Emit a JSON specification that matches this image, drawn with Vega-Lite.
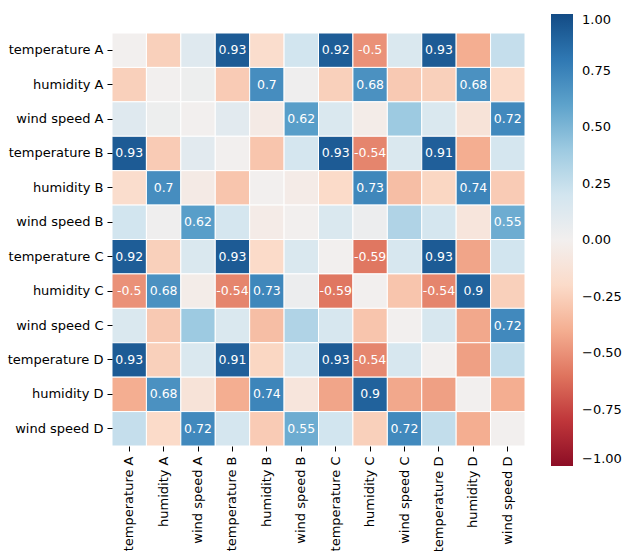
{
 "$schema": "https://vega.github.io/schema/vega-lite/v6.json",
 "width": 413, "height": 413,
 "autosize": {"type": "none"},
 "padding": {"left": 112, "top": 33, "right": 97, "bottom": 105},
 "config": {"font": "DejaVu Sans", "view": {"stroke": null}},
 "datasets": {"m": [
{"r":"temperature A","c":"temperature A","v":0},{"r":"temperature A","c":"humidity A","v":-0.25},{"r":"temperature A","c":"wind speed A","v":0.12},{"r":"temperature A","c":"temperature B","v":0.93},{"r":"temperature A","c":"humidity B","v":-0.18},{"r":"temperature A","c":"wind speed B","v":0.2},{"r":"temperature A","c":"temperature C","v":0.92},{"r":"temperature A","c":"humidity C","v":-0.5},{"r":"temperature A","c":"wind speed C","v":0.15},{"r":"temperature A","c":"temperature D","v":0.93},{"r":"temperature A","c":"humidity D","v":-0.4},{"r":"temperature A","c":"wind speed D","v":0.25},
{"r":"humidity A","c":"temperature A","v":-0.25},{"r":"humidity A","c":"humidity A","v":0},{"r":"humidity A","c":"wind speed A","v":0.03},{"r":"humidity A","c":"temperature B","v":-0.27},{"r":"humidity A","c":"humidity B","v":0.7},{"r":"humidity A","c":"wind speed B","v":0.02},{"r":"humidity A","c":"temperature C","v":-0.25},{"r":"humidity A","c":"humidity C","v":0.68},{"r":"humidity A","c":"wind speed C","v":-0.28},{"r":"humidity A","c":"temperature D","v":-0.25},{"r":"humidity A","c":"humidity D","v":0.68},{"r":"humidity A","c":"wind speed D","v":-0.2},
{"r":"wind speed A","c":"temperature A","v":0.12},{"r":"wind speed A","c":"humidity A","v":0.03},{"r":"wind speed A","c":"wind speed A","v":0},{"r":"wind speed A","c":"temperature B","v":0.1},{"r":"wind speed A","c":"humidity B","v":-0.05},{"r":"wind speed A","c":"wind speed B","v":0.62},{"r":"wind speed A","c":"temperature C","v":0.15},{"r":"wind speed A","c":"humidity C","v":-0.03},{"r":"wind speed A","c":"wind speed C","v":0.4},{"r":"wind speed A","c":"temperature D","v":0.15},{"r":"wind speed A","c":"humidity D","v":-0.12},{"r":"wind speed A","c":"wind speed D","v":0.72},
{"r":"temperature B","c":"temperature A","v":0.93},{"r":"temperature B","c":"humidity A","v":-0.27},{"r":"temperature B","c":"wind speed A","v":0.1},{"r":"temperature B","c":"temperature B","v":0},{"r":"temperature B","c":"humidity B","v":-0.3},{"r":"temperature B","c":"wind speed B","v":0.18},{"r":"temperature B","c":"temperature C","v":0.93},{"r":"temperature B","c":"humidity C","v":-0.54},{"r":"temperature B","c":"wind speed C","v":0.15},{"r":"temperature B","c":"temperature D","v":0.91},{"r":"temperature B","c":"humidity D","v":-0.4},{"r":"temperature B","c":"wind speed D","v":0.18},
{"r":"humidity B","c":"temperature A","v":-0.18},{"r":"humidity B","c":"humidity A","v":0.7},{"r":"humidity B","c":"wind speed A","v":-0.05},{"r":"humidity B","c":"temperature B","v":-0.3},{"r":"humidity B","c":"humidity B","v":0},{"r":"humidity B","c":"wind speed B","v":-0.04},{"r":"humidity B","c":"temperature C","v":-0.2},{"r":"humidity B","c":"humidity C","v":0.73},{"r":"humidity B","c":"wind speed C","v":-0.33},{"r":"humidity B","c":"temperature D","v":-0.22},{"r":"humidity B","c":"humidity D","v":0.74},{"r":"humidity B","c":"wind speed D","v":-0.27},
{"r":"wind speed B","c":"temperature A","v":0.2},{"r":"wind speed B","c":"humidity A","v":0.02},{"r":"wind speed B","c":"wind speed A","v":0.62},{"r":"wind speed B","c":"temperature B","v":0.18},{"r":"wind speed B","c":"humidity B","v":-0.04},{"r":"wind speed B","c":"wind speed B","v":0},{"r":"wind speed B","c":"temperature C","v":0.15},{"r":"wind speed B","c":"humidity C","v":0.04},{"r":"wind speed B","c":"wind speed C","v":0.33},{"r":"wind speed B","c":"temperature D","v":0.18},{"r":"wind speed B","c":"humidity D","v":-0.1},{"r":"wind speed B","c":"wind speed D","v":0.55},
{"r":"temperature C","c":"temperature A","v":0.92},{"r":"temperature C","c":"humidity A","v":-0.25},{"r":"temperature C","c":"wind speed A","v":0.15},{"r":"temperature C","c":"temperature B","v":0.93},{"r":"temperature C","c":"humidity B","v":-0.2},{"r":"temperature C","c":"wind speed B","v":0.15},{"r":"temperature C","c":"temperature C","v":0},{"r":"temperature C","c":"humidity C","v":-0.59},{"r":"temperature C","c":"wind speed C","v":0.17},{"r":"temperature C","c":"temperature D","v":0.93},{"r":"temperature C","c":"humidity D","v":-0.43},{"r":"temperature C","c":"wind speed D","v":0.2},
{"r":"humidity C","c":"temperature A","v":-0.5},{"r":"humidity C","c":"humidity A","v":0.68},{"r":"humidity C","c":"wind speed A","v":-0.03},{"r":"humidity C","c":"temperature B","v":-0.54},{"r":"humidity C","c":"humidity B","v":0.73},{"r":"humidity C","c":"wind speed B","v":0.04},{"r":"humidity C","c":"temperature C","v":-0.59},{"r":"humidity C","c":"humidity C","v":0},{"r":"humidity C","c":"wind speed C","v":-0.3},{"r":"humidity C","c":"temperature D","v":-0.54},{"r":"humidity C","c":"humidity D","v":0.9},{"r":"humidity C","c":"wind speed D","v":-0.25},
{"r":"wind speed C","c":"temperature A","v":0.15},{"r":"wind speed C","c":"humidity A","v":-0.28},{"r":"wind speed C","c":"wind speed A","v":0.4},{"r":"wind speed C","c":"temperature B","v":0.15},{"r":"wind speed C","c":"humidity B","v":-0.33},{"r":"wind speed C","c":"wind speed B","v":0.33},{"r":"wind speed C","c":"temperature C","v":0.17},{"r":"wind speed C","c":"humidity C","v":-0.3},{"r":"wind speed C","c":"wind speed C","v":0},{"r":"wind speed C","c":"temperature D","v":0.17},{"r":"wind speed C","c":"humidity D","v":-0.42},{"r":"wind speed C","c":"wind speed D","v":0.72},
{"r":"temperature D","c":"temperature A","v":0.93},{"r":"temperature D","c":"humidity A","v":-0.25},{"r":"temperature D","c":"wind speed A","v":0.15},{"r":"temperature D","c":"temperature B","v":0.91},{"r":"temperature D","c":"humidity B","v":-0.22},{"r":"temperature D","c":"wind speed B","v":0.18},{"r":"temperature D","c":"temperature C","v":0.93},{"r":"temperature D","c":"humidity C","v":-0.54},{"r":"temperature D","c":"wind speed C","v":0.17},{"r":"temperature D","c":"temperature D","v":0},{"r":"temperature D","c":"humidity D","v":-0.45},{"r":"temperature D","c":"wind speed D","v":0.26},
{"r":"humidity D","c":"temperature A","v":-0.4},{"r":"humidity D","c":"humidity A","v":0.68},{"r":"humidity D","c":"wind speed A","v":-0.12},{"r":"humidity D","c":"temperature B","v":-0.4},{"r":"humidity D","c":"humidity B","v":0.74},{"r":"humidity D","c":"wind speed B","v":-0.1},{"r":"humidity D","c":"temperature C","v":-0.43},{"r":"humidity D","c":"humidity C","v":0.9},{"r":"humidity D","c":"wind speed C","v":-0.42},{"r":"humidity D","c":"temperature D","v":-0.45},{"r":"humidity D","c":"humidity D","v":0},{"r":"humidity D","c":"wind speed D","v":-0.4},
{"r":"wind speed D","c":"temperature A","v":0.25},{"r":"wind speed D","c":"humidity A","v":-0.2},{"r":"wind speed D","c":"wind speed A","v":0.72},{"r":"wind speed D","c":"temperature B","v":0.18},{"r":"wind speed D","c":"humidity B","v":-0.27},{"r":"wind speed D","c":"wind speed B","v":0.55},{"r":"wind speed D","c":"temperature C","v":0.2},{"r":"wind speed D","c":"humidity C","v":-0.25},{"r":"wind speed D","c":"wind speed C","v":0.72},{"r":"wind speed D","c":"temperature D","v":0.26},{"r":"wind speed D","c":"humidity D","v":-0.4},{"r":"wind speed D","c":"wind speed D","v":0}
 ]},
 "data": {"name": "m"},
 "encoding": {
  "x": {"field": "c", "type": "nominal",
   "sort": ["temperature A","humidity A","wind speed A","temperature B","humidity B","wind speed B","temperature C","humidity C","wind speed C","temperature D","humidity D","wind speed D"],
   "scale": {"paddingInner": 0, "paddingOuter": 0},
   "axis": {"title": null, "labelAngle": -90, "domain": false, "tickSize": 5, "tickColor": "#000", "labelColor": "#000", "labelFontSize": 13, "labelPadding": 5}},
  "y": {"field": "r", "type": "nominal",
   "sort": ["temperature A","humidity A","wind speed A","temperature B","humidity B","wind speed B","temperature C","humidity C","wind speed C","temperature D","humidity D","wind speed D"],
   "scale": {"paddingInner": 0, "paddingOuter": 0},
   "axis": {"title": null, "domain": false, "tickSize": 5, "tickColor": "#000", "labelColor": "#000", "labelFontSize": 13, "labelPadding": 4}}
 },
 "layer": [
  {"mark": {"type": "rect", "stroke": "white", "strokeWidth": 1},
   "encoding": {"color": {"field": "v", "type": "quantitative",
    "scale": {"scheme": "redblue", "domain": [-1, 1]},
    "legend": {"title": null, "orient": "none", "legendX": 439, "legendY": -19, "direction": "vertical",
     "gradientLength": 452, "gradientThickness": 22, "gradientStrokeWidth": 0,
     "values": [-1, -0.75, -0.5, -0.25, 0, 0.25, 0.5, 0.75, 1], "format": ".2f",
     "labelFontSize": 13, "labelColor": "#000", "labelOffset": 9, "labelOverlap": false, "labelBaseline": "middle"}}}},
  {"transform": [{"filter": "abs(datum.v) >= 0.5"}, {"calculate": "replace(format(datum.v, '.2~f'), '\u2212', '-')", "as": "lab"}],
   "mark": {"type": "text", "color": "white", "fontSize": 12.5},
   "encoding": {"text": {"field": "lab", "type": "nominal"}}}
 ]
}
